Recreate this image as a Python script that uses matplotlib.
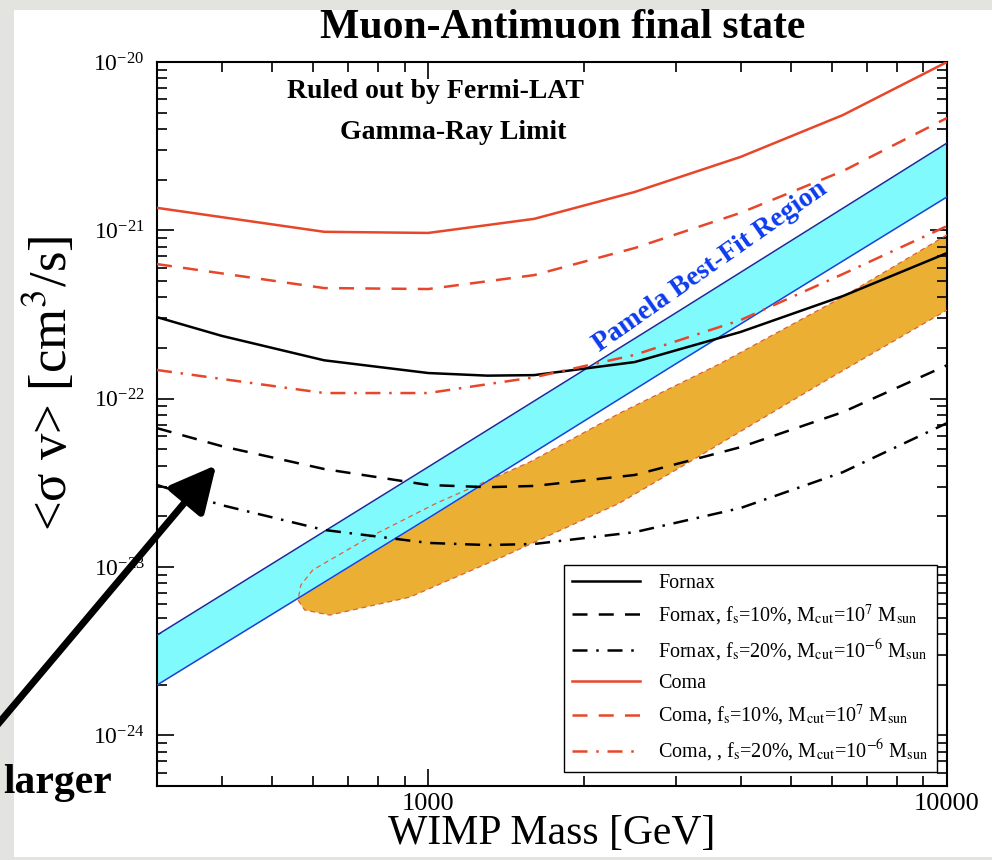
import matplotlib
matplotlib.use("Agg")
import matplotlib.pyplot as plt
from matplotlib.patches import Rectangle, FancyArrowPatch
from matplotlib.ticker import LogLocator, NullFormatter, FuncFormatter

plt.rcParams['font.family'] = ['Liberation Serif', 'DejaVu Serif']
plt.rcParams['mathtext.fontset'] = 'stix'

# ───── Data ─────
mass_coma = [300, 630, 1000, 1600, 2500, 4000, 6300, 10000]
coma      = [1.36e-21, 9.8e-22, 9.65e-22, 1.17e-21, 1.69e-21, 2.73e-21, 4.84e-21, 1.0e-20]
coma_f10  = [6.3e-22, 4.54e-22, 4.48e-22, 5.42e-22, 7.85e-22, 1.27e-21, 2.25e-21, 4.65e-21]
coma_f20  = [1.48e-22, 1.08e-22, 1.08e-22, 1.34e-22, 1.82e-22, 2.93e-22, 5.5e-22, 1.06e-21]

mass_fornax = [300, 400, 630, 1000, 1300, 1600, 2500, 4000, 6300, 10000]
fornax      = [3.05e-22, 2.36e-22, 1.69e-22, 1.42e-22, 1.37e-22, 1.38e-22, 1.65e-22, 2.49e-22, 4.07e-22, 7.33e-22]
fornax_f10  = [6.68e-23, 5.22e-23, 3.82e-23, 3.07e-23, 2.98e-23, 3.03e-23, 3.52e-23, 5.15e-23, 8.32e-23, 1.58e-22]
fornax_f20  = [3.07e-23, 2.33e-23, 1.66e-23, 1.39e-23, 1.35e-23, 1.37e-23, 1.61e-23, 2.24e-23, 3.66e-23, 7.16e-23]

mass_pamela  = [300, 1000, 3000, 10000]
pamela_upper = [3.94e-24, 3.93e-23, 3.23e-22, 3.30e-21]
pamela_lower = [1.99e-24, 1.95e-23, 1.61e-22, 1.58e-21]

mass_orange_up = [561, 568, 599, 772, 1039, 1569, 2339, 3646, 6293, 10000]
orange_up      = [6.35e-24, 7.8e-24, 9.6e-24, 1.51e-23, 2.40e-23, 4.20e-23, 8.20e-23, 1.61e-22, 4.02e-22, 9.4e-22]
mass_orange_lo = [561, 578, 646, 921, 1392, 2339, 3234, 5861, 10000]
orange_lo      = [6.35e-24, 5.55e-24, 5.18e-24, 6.62e-24, 1.15e-23, 2.40e-23, 4.32e-23, 1.29e-22, 3.36e-22]

labels = ['Fornax',
          r'Fornax, f$_{\rm s}$=10%, M$_{\rm cut}$=10$^{7}$ M$_{\rm sun}$',
          r'Fornax, f$_{\rm s}$=20%, M$_{\rm cut}$=10$^{-6}$ M$_{\rm sun}$',
          'Coma',
          r'Coma, f$_{\rm s}$=10%, M$_{\rm cut}$=10$^{7}$ M$_{\rm sun}$',
          r'Coma, , f$_{\rm s}$=20%, M$_{\rm cut}$=10$^{-6}$ M$_{\rm sun}$']

RED = '#e8462a'
DASH = (6, 4.5)
DASHDOT = (6, 3.5, 1, 3.5)

# ───── Figure ─────
fig = plt.figure(figsize=(9.92, 8.6), dpi=100, facecolor='#e3e3e0')
fig.patches.append(Rectangle((14/992, 1-857/860), 1-14/992, 847/860,
                             transform=fig.transFigure, facecolor='white',
                             edgecolor='none', zorder=-10))
ax = fig.add_axes([157/992, 1-786/860, 790/992, 724/860])
ax.set_zorder(2)
ax.set_xscale('log')
ax.set_yscale('log')
ax.set_xlim(300, 10000)
ax.set_ylim(5e-25, 1e-20)

# orange region (fill below, dashed edge on top of the cyan band)
poly_m = mass_orange_up[::-1] + mass_orange_lo
poly_s = orange_up[::-1] + orange_lo
ax.fill(poly_m, poly_s, color='#ebb033', lw=0, zorder=1)
ax.fill_between(mass_pamela, pamela_lower, pamela_upper, color='#80fafc', lw=0, zorder=2)
ax.plot(poly_m, poly_s, color='#e0603a', lw=0.9, ls=(0, (4, 3)), zorder=3)
ax.plot(mass_pamela, pamela_upper, color='#1a2a9a', lw=1.1, zorder=3)
ax.plot(mass_pamela, pamela_lower, color='#2040d8', lw=1.1, zorder=3)

lw = 1.8
ax.plot(mass_fornax, fornax, color='black', lw=lw, zorder=4, label=labels[0])
ax.plot(mass_fornax, fornax_f10, color='black', lw=lw, dashes=DASH, zorder=4, label=labels[1])
ax.plot(mass_fornax, fornax_f20, color='black', lw=lw, dashes=DASHDOT, zorder=4, label=labels[2])
ax.plot(mass_coma, coma, color=RED, lw=lw, zorder=4, label=labels[3])
ax.plot(mass_coma, coma_f10, color=RED, lw=lw, dashes=DASH, zorder=4, label=labels[4])
ax.plot(mass_coma, coma_f20, color=RED, lw=lw, dashes=DASHDOT, zorder=4, label=labels[5])

# ticks
ax.xaxis.set_major_locator(LogLocator(base=10))
ax.xaxis.set_minor_locator(LogLocator(base=10, subs=range(2, 10)))
ax.xaxis.set_minor_formatter(NullFormatter())
ax.xaxis.set_major_formatter(FuncFormatter(lambda v, p: '%d' % round(v)))
ax.yaxis.set_minor_locator(LogLocator(base=10, subs=range(2, 10), numticks=20))
ax.yaxis.set_minor_formatter(NullFormatter())
ax.tick_params(which='both', direction='in', top=True, right=True, width=1.2)
ax.tick_params(which='major', length=12, pad=9)
ax.tick_params(which='minor', length=7)
ax.tick_params(axis='x', labelsize=19, pad=5)
ax.tick_params(axis='y', labelsize=17)
for s in ax.spines.values():
    s.set_linewidth(1.5)

ax.set_xlabel('WIMP Mass [GeV]', fontsize=30, labelpad=0)
fig.text(50/992, 1-383/860, '<σ v> [cm$^{3}$/s]', fontsize=38,
         rotation=90, ha='center', va='center')
fig.text(563/992, 1-28/860, 'Muon-Antimuon final state', fontsize=30,
         fontweight='bold', ha='center', va='center')

ax.text(0.353, 0.959, 'Ruled out by Fermi-LAT', transform=ax.transAxes,
        fontsize=20, fontweight='bold', ha='center', va='center')
ax.text(0.375, 0.903, 'Gamma-Ray Limit', transform=ax.transAxes,
        fontsize=20, fontweight='bold', ha='center', va='center')
ax.text(0.700, 0.717, 'Pamela Best-Fit Region', transform=ax.transAxes,
        fontsize=20, fontweight='bold', color='#0c3cee', rotation=35,
        ha='center', va='center', rotation_mode='anchor', zorder=5)

leg = ax.legend(loc='lower right', bbox_to_anchor=(0.987, 0.019), fontsize=14.5,
                frameon=True, fancybox=False, edgecolor='black', framealpha=1,
                handlelength=3.4, handletextpad=0.9, labelspacing=0.5,
                borderaxespad=0, borderpad=0.4)
leg.get_frame().set_linewidth(1.0)
leg.set_zorder(6)

# hand-drawn arrow and text at the left
arrow = FancyArrowPatch((-12/992, 1-736/860), (218/992, 1-463/860),
                        transform=fig.transFigure, arrowstyle='-|>',
                        mutation_scale=70, lw=5, color='black', zorder=10)
fig.patches.append(arrow)
fig.text(112/992, 1-783/860, 'larger', fontsize=30, fontweight='bold',
         ha='right', va='center')

fig.savefig('out.png', dpi=100, facecolor=fig.get_facecolor())
